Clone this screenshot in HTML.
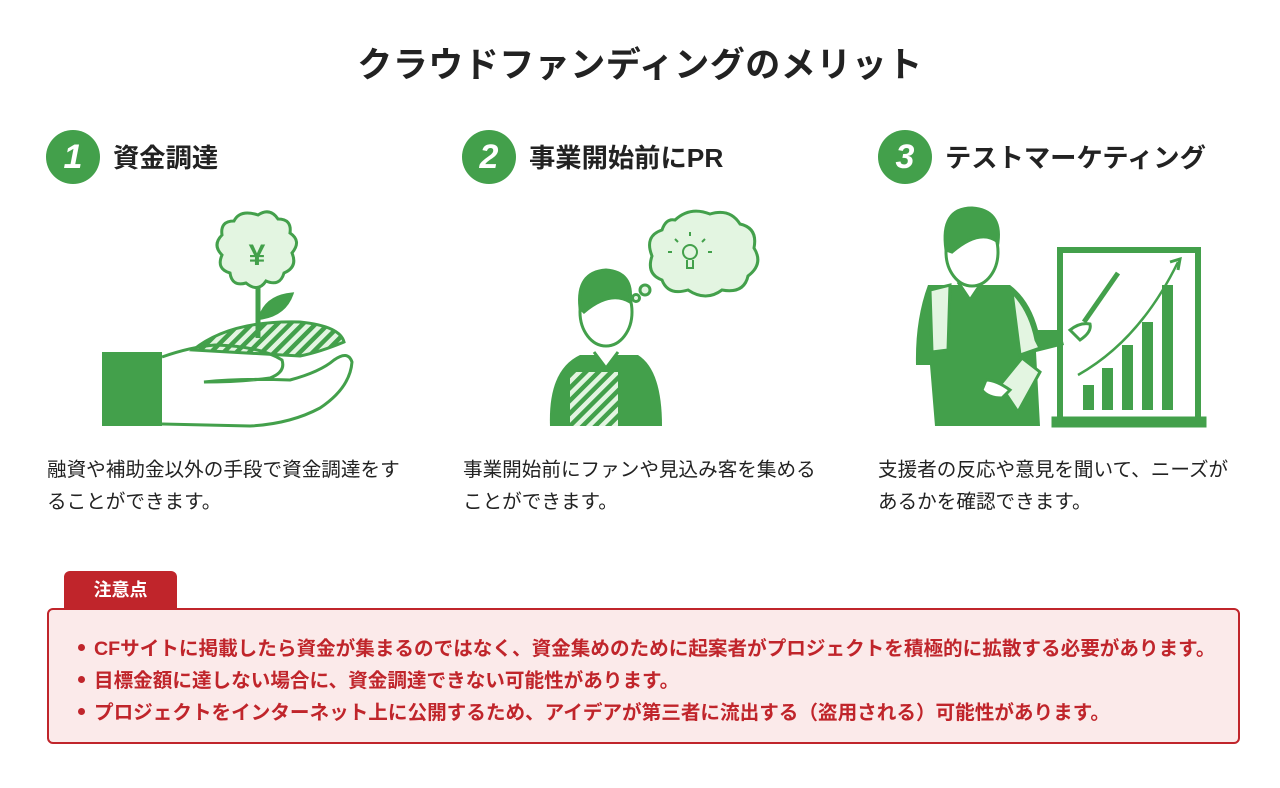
<!DOCTYPE html>
<html><head><meta charset="utf-8">
<style>
body{margin:0;width:1280px;height:788px;background:#fff;position:relative;overflow:hidden;font-family:"Liberation Sans","Noto Sans CJK JP",sans-serif;color:#222}
.a{position:absolute;white-space:nowrap}
h1{position:absolute;left:0;width:1280px;top:37px;margin:0;text-align:center;font-size:35px;font-weight:bold;color:#222;letter-spacing:0.5px}
.num{position:absolute;width:54px;height:54px;border-radius:50%;background:#43a04b;color:#fff;font-size:34px;font-weight:bold;font-style:italic;text-align:center;line-height:54px}
.hd{font-size:26.3px;font-weight:bold}
.ds{font-size:19.6px;line-height:32px;color:#222}
.tab{position:absolute;left:64px;top:571px;width:113px;height:38px;background:#c0252b;border-radius:6px 6px 0 0;color:#fff;font-weight:bold;font-size:18px;text-align:center;line-height:38px}
.box{position:absolute;left:47px;top:608px;width:1189px;height:132px;border:2px solid #c0252b;border-radius:6px;background:#fbeaea}
.box div{position:absolute;left:45px;font-size:19.6px;font-weight:bold;color:#c0252b;white-space:nowrap}
.box div:before{content:"";position:absolute;left:-16px;top:12px;width:7px;height:7px;border-radius:50%;background:#c0252b}
</style></head><body>
<h1>クラウドファンディングのメリット</h1>
<div class="num" style="left:46px;top:130px">1</div>
<div class="a hd" style="left:113px;top:136px">資金調達</div>
<div class="num" style="left:462px;top:130px">2</div>
<div class="a hd" style="left:529px;top:136px">事業開始前にPR</div>
<div class="num" style="left:878px;top:130px">3</div>
<div class="a hd" style="left:945px;top:136px">テストマーケティング</div>

<svg class="a" style="left:0;top:0" width="1280" height="440">
<defs><pattern id="st" width="9" height="9" patternUnits="userSpaceOnUse" patternTransform="rotate(45)"><rect width="9" height="9" fill="#e3f5e1"/><rect width="4.5" height="9" fill="#43a04b"/></pattern></defs>
<g stroke="#43a04b" stroke-width="3" fill="none">
<rect x="102" y="352" width="60" height="74" fill="#43a04b" stroke="none"/>
<path d="M193,350 Q230,320 300,322 Q340,326 344,342 Q320,352 300,356 Z" fill="url(#st)"/>
<path d="M162,357 Q190,347 215,345 Q260,346 282,360 Q286,372 270,378 Q240,382 204,382 Q240,378 290,380 Q320,372 334,360 Q348,350 352,362 Q350,388 320,408 Q290,424 250,426 L162,424"/>
<path d="M258,338 L258,282" stroke-width="5"/>
<path d="M262,312 Q270,296 292,294 Q285,314 262,318Z" fill="#43a04b"/>
<path d="M258,215 q12,-8 20,4 q14,0 12,14 q12,8 2,20 q6,14 -8,20 q-4,14 -18,8 q-8,12 -20,2 q-14,4 -16,-10 q-14,-4 -8,-18 q-10,-10 0,-20 q-2,-14 12,-14 q6,-12 24,-6z" fill="#e3f5e1"/>
<text x="257" y="265" font-size="30" font-weight="bold" fill="#43a04b" stroke="none" text-anchor="middle" font-family="Liberation Sans,sans-serif">¥</text>
<path d="M550,426 Q548,370 580,355 L638,355 Q662,370 662,426Z" fill="#43a04b" stroke="none"/>
<rect x="570" y="372" width="48" height="54" fill="url(#st)" stroke="none"/>
<path d="M594,352 L606,368 L618,352" fill="#fff"/>
<ellipse cx="606" cy="312" rx="26" ry="34" fill="#fff"/>
<path d="M580,308 Q576,272 606,270 Q634,272 630,302 Q610,290 584,312Z" fill="#43a04b"/>
<path d="M675,220 q15,-14 35,-6 q20,-6 30,10 q18,4 14,24 q10,16 -6,28 q-4,18 -26,14 q-16,12 -34,0 q-20,6 -26,-10 q-16,-6 -10,-24 q-8,-20 10,-26 q4,-12 13,-10z" fill="#e3f5e1"/>
<circle cx="645" cy="290" r="5" fill="#e3f5e1"/><circle cx="636" cy="298" r="3.5" fill="#e3f5e1"/>
<circle cx="690" cy="252" r="7" stroke-width="2"/><path d="M687,260 v8 h6 v-8" stroke-width="2"/>
<path d="M690,236v-4M678,242l-3,-3M702,242l3,-3M672,252h-4M708,252h4" stroke-width="2"/>
<path d="M928,285 L1010,285 Q1030,300 1038,330 L1060,330 L1064,345 L1036,352 L1040,426 L935,426 L930,365 L916,365 Q915,320 928,285Z" fill="#43a04b" stroke="none"/>
<path d="M930,290 L950,285 L948,350 L932,352Z M1012,292 Q1030,310 1036,340 L1040,348 L1020,355Z" fill="#e3f5e1" stroke="#43a04b"/>
<path d="M958,282 L970,300 L982,282" fill="#fff"/>
<ellipse cx="972" cy="252" rx="26" ry="34" fill="#fff"/>
<path d="M946,250 Q940,208 972,208 Q1002,210 998,242 Q980,228 952,252Z" fill="#43a04b"/>
<rect x="1060" y="250" width="138" height="170" stroke-width="6"/>
<rect x="1053" y="418" width="152" height="8" fill="#43a04b"/>
<g fill="#43a04b" stroke="none"><rect x="1083" y="385" width="11" height="25"/><rect x="1102" y="368" width="11" height="42"/><rect x="1122" y="345" width="11" height="65"/><rect x="1142" y="322" width="11" height="88"/><rect x="1162" y="285" width="11" height="125"/></g>
<path d="M1078,375 Q1140,340 1178,262" stroke-width="2.5"/><path d="M1170,262 L1180,259 L1178,270"/>
<path d="M1084,322 L1118,273" stroke-width="5"/>
<path d="M1070,330 q10,-8 20,-6 q2,8 -10,16z" fill="#fff"/>
<path d="M1000,385 L1022,358 L1040,372 L1018,412Z" fill="#e3f5e1"/>
<path d="M986,380 q10,0 24,10 l-8,8 q-14,0 -20,-8z" fill="#fff"/>
</g>
</svg>

<div class="a ds" style="left:47px;top:454px">融資や補助金以外の手段で資金調達をす<br>ることができます。</div>
<div class="a ds" style="left:463px;top:454px">事業開始前にファンや見込み客を集める<br>ことができます。</div>
<div class="a ds" style="left:878px;top:454px">支援者の反応や意見を聞いて、ニーズが<br>あるかを確認できます。</div>

<div class="tab">注意点</div>
<div class="box">
<div style="top:22px">CFサイトに掲載したら資金が集まるのではなく、資金集めのために起案者がプロジェクトを積極的に拡散する必要があります。</div>
<div style="top:54px">目標金額に達しない場合に、資金調達できない可能性があります。</div>
<div style="top:86px">プロジェクトをインターネット上に公開するため、アイデアが第三者に流出する（盗用される）可能性があります。</div>
</div>
</body></html>
